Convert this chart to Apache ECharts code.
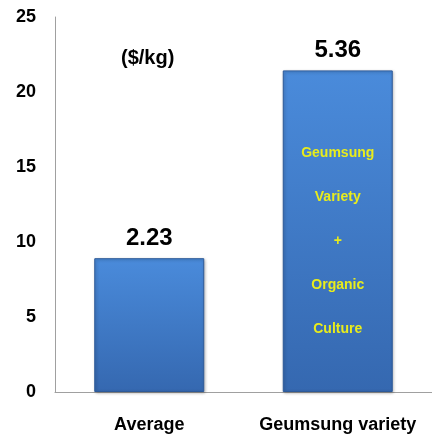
<!DOCTYPE html>
<html>
<head>
<meta charset="utf-8">
<script src="https://cdn.jsdelivr.net/npm/echarts@6/dist/echarts.min.js"></script>
<style>
  html, body { margin: 0; padding: 0; background: #fff; }
  #chart { width: 432px; height: 441px; }
</style>
</head>
<body>
<div id="chart"></div>
<script>
// bar heights on the 0-25 axis and the price labels shown above them
const categories = ['Average', 'Geumsung variety']
const barValues = [8.92, 21.44]
const priceLabels = ['2.23', '5.36']
const insideText = ['', 'Geumsung\nVariety\n+\nOrganic\nCulture']
const yTicks = { min: 0, max: 25, interval: 5 }

const font = 'Liberation Sans, Arial, sans-serif'
const barColor = new echarts.graphic.LinearGradient(0, 0, 0, 1, [
  { offset: 0, color: '#4a8bdb' },
  { offset: 1, color: '#3568b0' }
])

const chart = echarts.init(document.getElementById('chart'))
chart.setOption({
  animation: false,
  title: {
    text: '($/kg)',
    left: 116,
    top: 43,
    textStyle: { fontFamily: font, fontSize: 20, fontWeight: 'bold', color: '#000' }
  },
  grid: { left: 55, right: -2, top: 17, bottom: 49 },
  xAxis: {
    type: 'category',
    data: categories,
    axisLine: { lineStyle: { color: '#a0a0a0' } },
    axisTick: { show: false },
    axisLabel: {
      interval: 0,
      hideOverlap: false,
      fontFamily: font,
      fontSize: 18,
      fontWeight: 'bold',
      color: '#000',
      margin: 24
    }
  },
  yAxis: {
    type: 'value',
    min: yTicks.min,
    max: yTicks.max,
    interval: yTicks.interval,
    splitLine: { show: false },
    axisLine: { show: true, lineStyle: { color: '#a0a0a0' } },
    axisTick: { show: false },
    axisLabel: { fontFamily: font, fontSize: 18, fontWeight: 'bold', color: '#000', margin: 19 }
  },
  series: [
    {
      type: 'bar',
      data: barValues,
      barWidth: 110,
      itemStyle: {
        color: barColor,
        borderColor: '#2d5a99',
        borderWidth: 1,
        shadowColor: 'rgba(0,0,0,0.3)',
        shadowBlur: 3,
        shadowOffsetX: 1,
        shadowOffsetY: 1
      },
      label: {
        show: true,
        position: 'top',
        distance: 8,
        formatter: p => priceLabels[p.dataIndex],
        fontFamily: font,
        fontSize: 24,
        fontWeight: 'bold',
        color: '#000'
      }
    },
    {
      type: 'bar',
      data: barValues,
      barWidth: 110,
      barGap: '-100%',
      silent: true,
      itemStyle: { color: 'transparent' },
      label: {
        show: true,
        position: 'inside',
        offset: [0, 10],
        formatter: p => insideText[p.dataIndex],
        fontFamily: font,
        fontSize: 14,
        fontWeight: 'bold',
        lineHeight: 44,
        color: '#e8ec1c'
      }
    }
  ]
})
</script>
</body>
</html>
